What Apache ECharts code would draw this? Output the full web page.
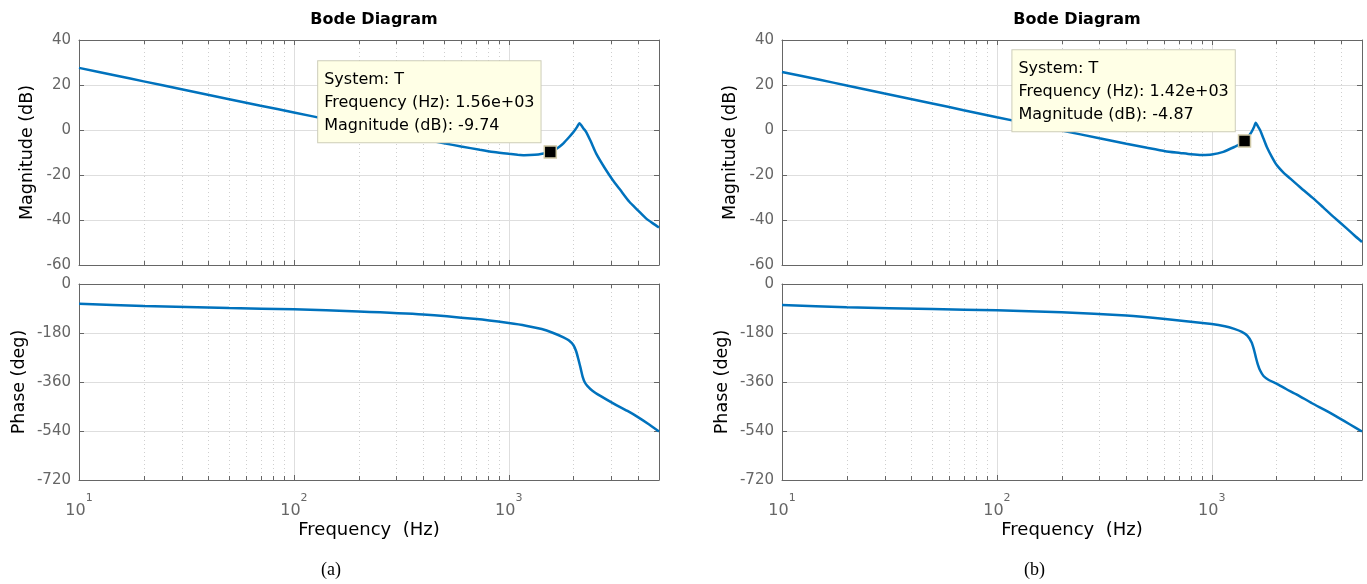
<!DOCTYPE html>
<html><head><meta charset="utf-8">
<script src="https://cdn.jsdelivr.net/npm/echarts@6/dist/echarts.min.js"></script>
<style>html,body{margin:0;padding:0;background:#fff}#c{width:1367px;height:584px}</style>
</head><body><div id="c"></div>
<script>
// ---------- data ----------
const magA = [[10,27.6],[15,24.1],[20,21.6],[30,18.1],[50,13.7],[70,10.8],[100,7.8],[150,4.3],[200,1.8],[300,-1.7],[400,-4.1],[500,-5.9],[600,-7.3],[733,-8.8],[850,-9.8],[1000,-10.6],[1100,-11.0],[1180,-11.2],[1320,-11.0],[1450,-10.4],[1560,-9.74],[1650,-8.6],[1720,-7.4],[1800,-5.8],[1915,-3.0],[2000,-0.9],[2080,1.4],[2131,3.0],[2170,2.2],[2230,0.6],[2289,-0.8],[2400,-4.8],[2548,-10.4],[2800,-17.0],[3044,-22.2],[3300,-26.6],[3639,-31.9],[4000,-35.8],[4351,-39.3],[4700,-41.6],[5000,-43.3]];
const phaseA = [[10,-72.4],[20,-81],[50,-88.5],[100,-93],[200,-100.6],[400,-111.6],[710,-128.8],[1000,-143.5],[1200,-153],[1423,-165.6],[1600,-179],[1796,-196],[1900,-207],[2000,-225],[2060,-248],[2110,-278],[2160,-310],[2209,-342],[2260,-362],[2319,-374],[2450,-392],[2667,-411],[3135,-443],[3600,-468],[3956,-487],[4500,-516],[5000,-542]];
const magB = [[10,25.8],[15,22.3],[20,19.8],[30,16.2],[50,11.8],[70,8.8],[100,5.7],[150,2.2],[200,-0.2],[300,-3.7],[400,-6.1],[500,-7.9],[607,-9.4],[712,-10.2],[800,-10.8],[900,-11.1],[1000,-10.9],[1132,-9.7],[1283,-7.4],[1350,-6.3],[1420,-4.87],[1480,-2.9],[1534,-0.75],[1570,1.2],[1601,3.2],[1635,1.8],[1677,0.0],[1740,-3.8],[1801,-7.4],[1900,-11.8],[2005,-15.6],[2150,-18.8],[2312,-21.5],[2600,-25.8],[2967,-30.4],[3300,-34.4],[3675,-38.5],[4242,-43.7],[4600,-46.8],[5000,-49.8]];
const phaseB = [[10,-77],[20,-85.7],[50,-92],[100,-96.7],[200,-104],[400,-116],[607,-128.6],[1000,-147],[1150,-155],[1273,-165],[1380,-176],[1462,-190],[1531,-214],[1570,-240],[1603,-269],[1640,-297],[1679,-318],[1740,-338],[1841,-352.6],[2000,-366],[2217,-385.7],[2500,-407],[2926,-438],[3400,-465],[3862,-490],[4400,-516],[5000,-542]];

const tipFreqs = [1560, 1420];
const tipMags = [-9.74, -4.87];
const tipSystem = 'T';

const freqRange = [10, 5000];
const magTicks = [-60, -40, -20, 0, 20, 40];
const phaseTicks = [-720, -540, -360, -180, 0];
const minorFreqs = [20,30,40,50,60,70,80,90,200,300,400,500,600,700,800,900,2000,3000,4000];

const panelTitles = ['Bode Diagram', 'Bode Diagram'];
const panelLetters = ['(a)', '(b)'];
const magName = 'Magnitude (dB)';
const phaseName = 'Phase (deg)';
const freqName = 'Frequency  (Hz)';

// ---------- layout / style ----------
const FONT = 'DejaVu Sans';
const AX = '#666666';
const LINE = '#0072BD';
const panelLeft = [79, 782];
const plotW = 580;
const magTop = 40, magH = 225, phTop = 284, phH = 196;

const grids = [];
const xAxes = [];
const yAxes = [];
const series = [];

function fmtExp(v) {
  return v.toExponential(2).replace(/e([+-])(\d)$/, 'e$10$2');
}

function addGrid(left, top, height, ticks, yName, nameGap, isPhase) {
  const g = grids.length;
  grids.push({left: left, top: top, width: plotW, height: height, containLabel: false});
  const yMin = ticks[0], yMax = ticks[ticks.length - 1];
  const interval = ticks[1] - ticks[0];
  const base = {
    type: 'log', logBase: 10, min: freqRange[0], max: freqRange[1], gridIndex: g,
    axisLine: {show: true, onZero: false, lineStyle: {color: AX, width: 1}},
    axisTick: {show: true, inside: true, length: 5, lineStyle: {color: AX}},
    minorTick: {show: false}
  };
  xAxes.push(Object.assign({}, base, {
    position: 'bottom',
    splitLine: {show: true, lineStyle: {color: '#dedede', width: 1}},
    axisLabel: isPhase ? {
      show: true, margin: 13,
      formatter: function (v) {
        const l = Math.log10(v), e = Math.round(l);
        if (Math.abs(l - e) > 1e-6) return '';
        return '{b|10}{s|' + e + '}';
      },
      rich: {
        b: {fontFamily: FONT, fontSize: 16, color: AX, lineHeight: 26, verticalAlign: 'bottom'},
        s: {fontFamily: FONT, fontSize: 11, color: AX, lineHeight: 12, verticalAlign: 'top'}
      }
    } : {show: false},
    name: isPhase ? freqName : '',
    nameLocation: 'middle', nameGap: 41,
    nameTextStyle: {fontFamily: FONT, fontSize: 18, color: '#000'}
  }));
  xAxes.push(Object.assign({}, base, {
    position: 'top', splitLine: {show: false}, axisLabel: {show: false}
  }));
  const ybase = {
    type: 'value', min: yMin, max: yMax, interval: interval, gridIndex: g,
    axisLine: {show: true, onZero: false, lineStyle: {color: AX, width: 1}},
    axisTick: {show: true, inside: true, length: 5, lineStyle: {color: AX}}
  };
  yAxes.push(Object.assign({}, ybase, {
    position: 'left',
    splitLine: {show: true, lineStyle: {color: '#dedede', width: 1}},
    axisLabel: {show: true, margin: 8, fontFamily: FONT, fontSize: 15, color: AX},
    name: yName, nameLocation: 'middle', nameGap: nameGap,
    nameTextStyle: {fontFamily: FONT, fontSize: 17.5, color: '#000'}
  }));
  yAxes.push(Object.assign({}, ybase, {
    position: 'right', splitLine: {show: false}, axisLabel: {show: false}
  }));
  // minor log grid lines (dotted) + minor ticks on top & bottom edges
  series.push({
    type: 'custom', xAxisIndex: 2 * g, yAxisIndex: 2 * g, z: 1, silent: true,
    data: minorFreqs.map(f => [f, yMin]),
    encode: {x: 0, y: 1},
    renderItem: function (params, api) {
      const f = api.value(0);
      const t = api.coord([f, yMax]);
      const b = api.coord([f, yMin]);
      const x = Math.round(t[0]) + 0.5;
      return {type: 'group', children: [
        {type: 'line', shape: {x1: x, y1: t[1], x2: x, y2: b[1]},
         style: {stroke: '#cfcfcf', lineWidth: 1, lineDash: [1, 3]}},
        {type: 'line', shape: {x1: x, y1: b[1], x2: x, y2: b[1] - 4},
         style: {stroke: AX, lineWidth: 1}},
        {type: 'line', shape: {x1: x, y1: t[1], x2: x, y2: t[1] + 4},
         style: {stroke: AX, lineWidth: 1}}
      ]};
    }
  });
  return g;
}

const curves = [[magA, phaseA], [magB, phaseB]];
const titles = [];
const graphics = [];

for (let p = 0; p < 2; p++) {
  const left = panelLeft[p];
  const gm = addGrid(left, magTop, magH, magTicks, magName, 43, false);
  const gp = addGrid(left, phTop, phH, phaseTicks, phaseName, 51, true);
  series.push({
    type: 'line', xAxisIndex: 2 * gm, yAxisIndex: 2 * gm, data: curves[p][0],
    showSymbol: false, smooth: 0.2, z: 3,
    lineStyle: {color: LINE, width: 2.5}, itemStyle: {color: LINE}
  });
  series.push({
    type: 'line', xAxisIndex: 2 * gp, yAxisIndex: 2 * gp, data: curves[p][1],
    showSymbol: false, smooth: 0.2, z: 3,
    lineStyle: {color: LINE, width: 2.5}, itemStyle: {color: LINE}
  });
  const f = tipFreqs[p], m = tipMags[p];
  series.push({
    type: 'scatter', xAxisIndex: 2 * gm, yAxisIndex: 2 * gm, z: 10,
    data: [[f, m]],
    symbol: 'rect', symbolSize: 12,
    itemStyle: {color: '#000', opacity: 1, borderColor: '#cfc8a6', borderWidth: 1.5},
    label: {
      show: true, position: [-3, -3], align: 'right', verticalAlign: 'bottom',
      formatter: '{l|System: ' + tipSystem + '}\n{l|Frequency (Hz): ' + fmtExp(f) + '}\n{l|Magnitude (dB): ' + m.toFixed(2) + '}',
      rich: {l: {align: 'left', fontFamily: FONT, fontSize: 16, color: '#000', lineHeight: 23}},
      fontFamily: FONT, fontSize: 16, color: '#000', lineHeight: 23,
      backgroundColor: '#ffffe6', borderColor: '#cdcdb9', borderWidth: 1,
      padding: [7, 6, 5, 6]
    }
  });
  titles.push({
    text: panelTitles[p], left: left + plotW / 2, top: 7, textAlign: 'center',
    textStyle: {fontFamily: FONT, fontSize: 16, fontWeight: 'bold', color: '#000'}
  });
  graphics.push({
    type: 'text', left: left + plotW / 2 - 36 - 12, top: 561,
    style: {text: panelLetters[p], font: '18px "Liberation Serif"', fill: '#000'}
  });
}

const chart = echarts.init(document.getElementById('c'), null, {renderer: 'canvas'});
chart.setOption({
  animation: false,
  backgroundColor: '#fff',
  title: titles,
  grid: grids,
  xAxis: xAxes,
  yAxis: yAxes,
  series: series,
  graphic: graphics
});
</script>
</body></html>
